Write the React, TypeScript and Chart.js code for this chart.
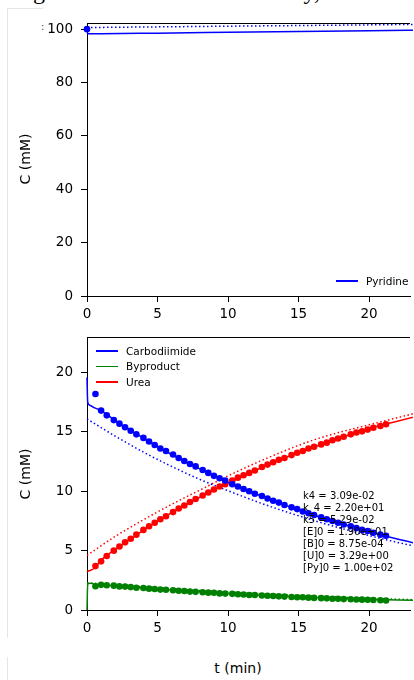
import React, { useEffect, useRef } from "react";
import { Chart, registerables } from "chart.js";

Chart.register(...registerables);

// ---------- Data ----------
const tData = [0.6, 1.0, 1.4, 1.9, 2.3, 2.7, 3.1, 3.5, 4.0, 4.4, 4.8, 5.2, 5.6, 6.1, 6.5, 6.9, 7.3, 7.7, 8.2, 8.6, 9.0, 9.4, 9.8, 10.3, 10.7, 11.1, 11.5, 11.9, 12.4, 12.8, 13.2, 13.6, 14.0, 14.5, 14.9, 15.3, 15.7, 16.1, 16.6, 17.0, 17.4, 17.8, 18.2, 18.7, 19.1, 19.5, 19.9, 20.3, 20.8, 21.2];
const carbodiimideData = [18.2, 16.8, 16.4, 16.0, 15.7, 15.4, 15.1, 14.8, 14.5, 14.2, 13.9, 13.6, 13.4, 13.1, 12.8, 12.55, 12.3, 12.1, 11.8, 11.55, 11.3, 11.1, 10.9, 10.6, 10.4, 10.2, 10.0, 9.8, 9.6, 9.4, 9.2, 9.05, 8.85, 8.65, 8.5, 8.3, 8.15, 8.0, 7.8, 7.65, 7.5, 7.35, 7.2, 7.05, 6.9, 6.75, 6.65, 6.5, 6.35, 6.25];
const ureaData = [3.7, 4.1, 4.55, 5.0, 5.35, 5.7, 6.0, 6.35, 6.75, 7.05, 7.35, 7.65, 7.9, 8.25, 8.55, 8.8, 9.1, 9.35, 9.65, 9.9, 10.15, 10.4, 10.6, 10.9, 11.15, 11.35, 11.55, 11.75, 12.05, 12.25, 12.45, 12.65, 12.8, 13.05, 13.25, 13.4, 13.6, 13.75, 13.95, 14.1, 14.3, 14.45, 14.6, 14.8, 14.95, 15.05, 15.2, 15.35, 15.5, 15.65];
const byproductData = [2.0, 2.12, 2.08, 2.05, 1.99, 1.97, 1.93, 1.87, 1.85, 1.8, 1.77, 1.72, 1.71, 1.66, 1.62, 1.6, 1.55, 1.53, 1.5, 1.46, 1.45, 1.4, 1.38, 1.36, 1.33, 1.31, 1.27, 1.26, 1.22, 1.2, 1.18, 1.15, 1.13, 1.1, 1.08, 1.07, 1.04, 1.02, 1.0, 0.98, 0.95, 0.95, 0.92, 0.9, 0.89, 0.87, 0.86, 0.84, 0.82, 0.8];

// fitted model (solid)
const tFit = [0, 0.05, 0.2, 0.5, 1, 2, 3, 4, 6, 8, 10, 12, 14, 16, 18, 20, 22, 24];
const carbodiimideFit = [19.6, 17.5, 17.25, 17.05, 16.8, 15.95, 15.2, 14.47, 13.1, 11.89, 10.76, 9.77, 8.86, 8.03, 7.28, 6.6, 5.98, 5.43];
const byproductFit = [0, 2.2, 2.25, 2.2, 2.13, 2.04, 1.95, 1.86, 1.69, 1.54, 1.4, 1.27, 1.16, 1.06, 0.98, 0.9, 0.85, 0.8];
const ureaFit = [3.2, 3.25, 3.33, 3.5, 4.2, 5.1, 5.9, 6.7, 8.2, 9.5, 10.7, 11.8, 12.8, 13.7, 14.5, 15.3, 15.9, 16.5];

// initial guess model (dotted)
const tGuess = [0, 2, 4, 6, 8, 10, 12, 14, 16, 18, 20, 22, 24];
const carbodiimideGuess = [16.1, 14.65, 13.3, 12.1, 11.0, 10.05, 9.14, 8.32, 7.57, 6.89, 6.27, 5.7, 5.19];
const byproductGuess = [2.3, 2.12, 1.95, 1.79, 1.64, 1.51, 1.39, 1.27, 1.17, 1.08, 0.99, 0.91, 0.84];
const ureaGuess = [4.6, 6.2, 7.6, 8.9, 10.1, 11.3, 12.4, 13.4, 14.3, 15.0, 15.6, 16.2, 16.8];

// pyridine
const tPyData = [0];
const pyridineData = [100];
const tPyFit = [0, 0.05, 1, 5, 10, 15, 20, 24];
const pyridineFit = [100, 98.3, 98.3, 98.5, 98.8, 99.1, 99.4, 99.6];
const tPyGuess = [0, 6, 12, 18, 24];
const pyridineGuess = [100.6, 100.9, 101.2, 101.5, 101.8];

const paramLines = ["k4 = 3.09e-02", "k_4 = 2.20e+01", "k5 = 5.29e-02", "[E]0 = 1.90e+01", "[B]0 = 8.75e-04", "[U]0 = 3.29e+00", "[Py]0 = 1.00e+02"];

const BLUE = "#0000ff";
const GREEN = "#008000";
const RED = "#ff0000";
const FONT = "'DejaVu Sans', sans-serif";

const pts = (xs: number[], ys: number[]) => xs.map((x, i) => ({ x, y: ys[i] }));

const scatterDs = (xs: number[], ys: number[], color: string) => ({
  data: pts(xs, ys),
  showLine: false,
  pointRadius: 3.3,
  pointBackgroundColor: color,
  pointBorderWidth: 0,
  borderColor: color,
  clip: false as any,
  order: 0,
});
const lineDs = (xs: number[], ys: number[], color: string, dotted: boolean) => ({
  data: pts(xs, ys),
  showLine: true,
  pointRadius: 0,
  borderColor: color,
  borderWidth: 1.5,
  borderDash: dotted ? [1.5, 2.5] : [],
  cubicInterpolationMode: "monotone" as const,
  clip: 3 as any,
  order: 1,
});

const topSpine = {
  id: "topSpine",
  afterDraw(chart: any) {
    const { ctx, chartArea } = chart;
    ctx.save();
    ctx.strokeStyle = "#000";
    ctx.lineWidth = 1;
    ctx.beginPath();
    ctx.moveTo(chartArea.left, chartArea.top + 0.5);
    ctx.lineTo(chartArea.right, chartArea.top + 0.5);
    ctx.stroke();
    ctx.restore();
  },
};

function makeOptions(yMax: number, yStep: number, padTop: number, xHeight: number): any {
  return {
    responsive: false,
    animation: false,
    devicePixelRatio: 1,
    layout: { padding: { top: padTop, left: 0, right: 0, bottom: 0 } },
    plugins: { legend: { display: false }, tooltip: { enabled: false } },
    scales: {
      x: {
        type: "linear",
        min: 0,
        max: 22.9,
        afterFit: (s: any) => { s.height = xHeight; },
        ticks: { stepSize: 5, includeBounds: false, color: "#000", font: { family: FONT, size: 13.5 }, padding: 4, maxRotation: 0 },
        grid: { drawOnChartArea: false, drawTicks: true, tickLength: 6, tickColor: "#000", tickWidth: 1 },
        border: { display: true, color: "#000", width: 1 },
      },
      y: {
        type: "linear",
        min: 0,
        max: yMax,
        afterFit: (s: any) => { s.width = 87; },
        ticks: { stepSize: yStep, includeBounds: false, color: "#000", font: { family: FONT, size: 13.5 }, padding: 8 },
        grid: { drawOnChartArea: false, drawTicks: true, tickLength: 6, tickColor: "#000", tickWidth: 1 },
        border: { display: true, color: "#000", width: 1 },
      },
    },
  };
}

function ChartCanvas(props: { datasets: any[]; yMax: number; yStep: number; padTop: number; xHeight: number; width: number; height: number; style: any }) {
  const ref = useRef<HTMLCanvasElement | null>(null);
  useEffect(() => {
    if (!ref.current) return;
    const chart = new Chart(ref.current, {
      type: "scatter",
      data: { datasets: props.datasets },
      options: makeOptions(props.yMax, props.yStep, props.padTop, props.xHeight),
      plugins: [topSpine],
    } as any);
    return () => chart.destroy();
  }, []);
  return <canvas ref={ref} width={props.width} height={props.height} style={{ ...props.style, width: props.width, height: props.height }} />;
}

const abs = (o: any) => ({ position: "absolute" as const, ...o });

function LegendRow({ x, y, color, label }: { x: number; y: number; color: string; label: string }) {
  return (
    <>
      <div style={abs({ left: x, top: y - 0.75, width: 22, height: 1.5, background: color })} />
      <div style={abs({ left: x + 30, top: y - 7.5, fontFamily: FONT, fontSize: 10.5, lineHeight: "15px", color: "#000", whiteSpace: "nowrap" })}>{label}</div>
    </>
  );
}

const headStyle = { top: -23, fontFamily: "'Liberation Serif', serif", fontSize: 24, lineHeight: "28px", whiteSpace: "nowrap", color: "#000", textAlign: "right" };

export default function App() {
  const topDatasets = [
    scatterDs(tPyData, pyridineData, BLUE),
    lineDs(tPyFit, pyridineFit, BLUE, false),
    lineDs(tPyGuess, pyridineGuess, BLUE, true),
  ];
  const bottomDatasets = [
    scatterDs(tData, carbodiimideData, BLUE),
    scatterDs(tData, byproductData, GREEN),
    scatterDs(tData, ureaData, RED),
    lineDs(tFit, carbodiimideFit, BLUE, false),
    lineDs(tFit, byproductFit, GREEN, false),
    lineDs(tFit, ureaFit, RED, false),
    lineDs(tGuess, carbodiimideGuess, BLUE, true),
    lineDs(tGuess, byproductGuess, GREEN, true),
    lineDs(tGuess, ureaGuess, RED, true),
  ];
  return (
    <div style={abs({ left: 0, top: 0, width: 414, height: 680, overflow: "hidden", background: "#fff" })}>
      <div style={abs({ ...headStyle, right: 414 - 45 })}>Fig</div>
      <div style={abs({ ...headStyle, right: 414 - 320 })}>ure 2. Kinetics of the assay,</div>
      <div style={abs({ left: 7, top: 8, width: 1, height: 630, background: "#e6e6e6" })} />
      <div style={abs({ left: 7, top: 8, width: 36, height: 1, background: "#e6e6e6" })} />
      <div style={abs({ left: 7, top: 657, width: 1, height: 30, background: "#e6e6e6" })} />
      <div style={abs({ left: 41, top: 21, fontFamily: FONT, fontSize: 10, color: "#444" })}>:</div>

      <ChartCanvas datasets={topDatasets} yMax={102.3} yStep={20} padTop={23} xHeight={34} width={414} height={330} style={abs({ left: 0, top: 0 })} />
      <ChartCanvas datasets={bottomDatasets} yMax={23} yStep={5} padTop={27} xHeight={30} width={414} height={330} style={abs({ left: 0, top: 310 })} />

      <div style={abs({ left: 25, top: 159, transform: "translate(-50%, -50%) rotate(-90deg)", fontFamily: FONT, fontSize: 14, whiteSpace: "nowrap", color: "#000" })}>C (mM)</div>
      <div style={abs({ left: 25, top: 474, transform: "translate(-50%, -50%) rotate(-90deg)", fontFamily: FONT, fontSize: 14, whiteSpace: "nowrap", color: "#000" })}>C (mM)</div>
      <div style={abs({ left: 238, top: 668, transform: "translate(-50%, -50%)", fontFamily: FONT, fontSize: 14, whiteSpace: "nowrap", color: "#000" })}>t (min)</div>

      <LegendRow x={336} y={281} color={BLUE} label="Pyridine" />
      <LegendRow x={96} y={351} color={BLUE} label="Carbodiimide" />
      <LegendRow x={96} y={366.5} color={GREEN} label="Byproduct" />
      <LegendRow x={96} y={382} color={RED} label="Urea" />

      <div style={abs({ left: 303, top: 489.6, fontFamily: FONT, fontSize: 10, lineHeight: "12px", color: "#000", whiteSpace: "pre" })}>
        {paramLines.map((l, i) => <div key={i}>{l}</div>)}
      </div>
    </div>
  );
}
